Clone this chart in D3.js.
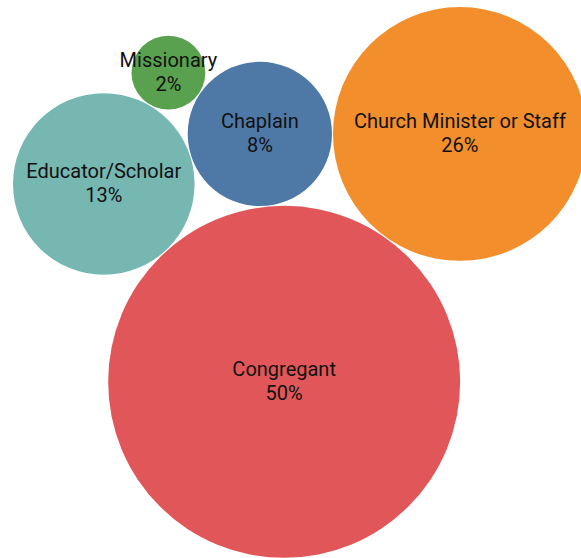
<!DOCTYPE html>
<html>
<head>
<meta charset="utf-8">
<script src="https://cdn.jsdelivr.net/npm/d3@7"></script>
<style>
  body { margin: 0; background: #fff; }
  svg { display: block; }
  .bubble-label { font-family: Roboto, 'Noto Sans', sans-serif; font-size: 20px; fill: #111; text-anchor: middle; }
</style>
</head>
<body>
<div id="bubble-chart"></div>
<script>

  var categories = ['Chaplain', 'Church Minister or Staff', 'Congregant', 'Educator/Scholar', 'Missionary'];
  var shares = [8.4, 26.0, 50.0, 13.3, 2.2];   // % of respondents


  var settings = {
    container: '#bubble-chart',
    width: 581,
    height: 558,
    left: 13,
    top: 7,
    maxRadius: 176,
    gap: 1
  };

  drawBubbles( getNodes(), settings );


  function getNodes() {
    return categories.map( function( name, i ) {
      return { name: name, share: shares[i] };
    });
  }


  // put c against a and b, on the left-hand side of a -> b
  function nestAgainst( a, b, c ) {
    var dx = b.x - a.x,
      dy = b.y - a.y,
      d = Math.sqrt( dx * dx + dy * dy ),
      ra = a.r + c.r,
      rb = b.r + c.r,
      along = ( d * d + ra * ra - rb * rb ) / ( 2 * d ),
      off = Math.sqrt( Math.max( 0, ra * ra - along * along ) );

    dx /= d;
    dy /= d;
    c.x = a.x + along * dx - off * dy;
    c.y = a.y + along * dy + off * dx;
  }


  function layoutBubbles( nodes, gap ) {
    nodes.forEach( function( d ) { d.r += gap / 2; });

    // first three as d3 packs them, the rest wrapped round the first bubble
    d3.packSiblings( nodes.slice( 0, 3 ) );
    for ( var i = 3; i < nodes.length; i++ ) {
      nestAgainst( nodes[0], nodes[i - 1], nodes[i] );
    }

    nodes.forEach( function( d ) { d.r -= gap / 2; });
  }


  function drawBubbles( nodes, settings ) {

    var color = d3.scaleOrdinal( d3.schemeTableau10 )
      .domain( categories );

    var radius = d3.scaleSqrt()
      .domain([ 0, d3.max( shares ) ])
      .range([ 0, settings.maxRadius ]);

    var pct = d3.format('.0f');

    nodes.forEach( function( d ) { d.r = radius( d.share ); });
    layoutBubbles( nodes, settings.gap );

    var x0 = d3.min( nodes, function( d ) { return d.x - d.r; }),
      y0 = d3.min( nodes, function( d ) { return d.y - d.r; });

    var chart = d3.select( settings.container )
      .append('svg')
      .attr('width', settings.width )
      .attr('height', settings.height );

    var group = chart.append('g')
      .attr('transform', 'translate(' + ( settings.left - x0 ) + ',' + ( settings.top - y0 ) + ')');

    var bubbles = group.selectAll('.bubble')
      .data( nodes )
      .enter()
      .append('g')
      .classed('bubble', true)
      .attr('transform', function( d ) { return 'translate(' + d.x + ',' + d.y + ')'; });

    bubbles.append('circle')
      .attr('r', function( d ) { return d.r; })
      .style('fill', function( d ) { return color( d.name ); });

    var labels = bubbles.append('text')
      .classed('bubble-label', true);

    labels.append('tspan')
      .attr('x', 0 )
      .attr('dy', '-0.28em')
      .text( function( d ) { return d.name; });

    labels.append('tspan')
      .attr('x', 0 )
      .attr('dy', '1.18em')
      .text( function( d ) { return pct( d.share ) + '%'; });
  }

</script>
</body>
</html>
